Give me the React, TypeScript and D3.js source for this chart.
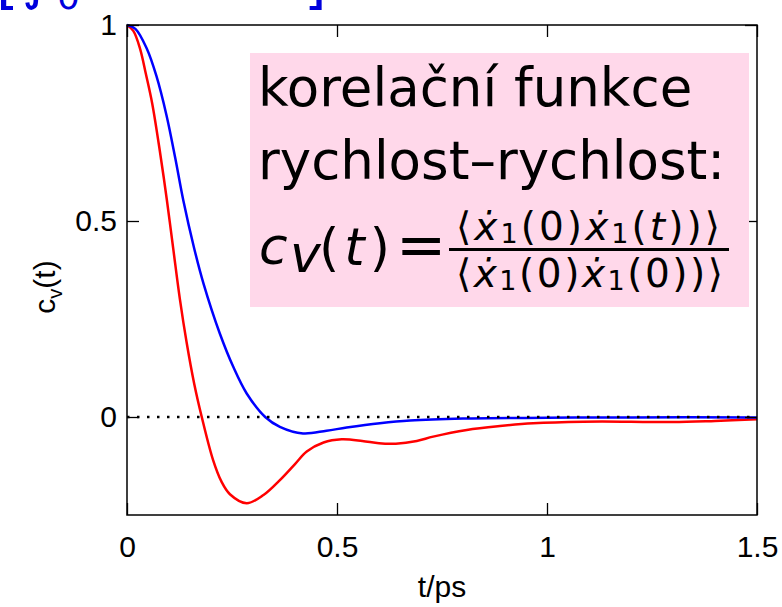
import * as d3 from "d3";
import React, { useEffect, useRef } from "react";

// red curve (t in ps, c_v)
const redT = [0, 0.015, 0.031, 0.045, 0.06, 0.078, 0.095, 0.11, 0.126, 0.142, 0.16, 0.178, 0.205, 0.225, 0.245, 0.285, 0.325, 0.364, 0.4, 0.428, 0.468, 0.511, 0.56, 0.6, 0.64, 0.69, 0.729, 0.809, 0.888, 0.967, 1.086, 1.2, 1.3, 1.4, 1.5];
const redV = [1, 0.985, 0.94, 0.875, 0.8, 0.68, 0.553, 0.43, 0.3, 0.19, 0.085, 0, -0.11, -0.165, -0.197, -0.22, -0.199, -0.161, -0.12, -0.088, -0.065, -0.057, -0.061, -0.067, -0.068, -0.061, -0.05, -0.033, -0.023, -0.016, -0.012, -0.012, -0.013, -0.01, -0.006];

// blue curve
const blueT = [0, 0.02, 0.047, 0.07, 0.094, 0.115, 0.134, 0.16, 0.182, 0.221, 0.253, 0.285, 0.329, 0.364, 0.419, 0.475, 0.523, 0.602, 0.674, 0.8, 1.0, 1.2, 1.5];
const blueV = [1, 0.99, 0.94, 0.87, 0.77, 0.66, 0.553, 0.43, 0.341, 0.213, 0.128, 0.06, 0, -0.025, -0.042, -0.035, -0.027, -0.016, -0.009, -0.004, -0.002, -0.001, -0.001];

const xTicks = [0, 0.5, 1, 1.5];
const yTicks = [0, 0.5, 1];
const xDomain = [0, 1.5];
const yDomain = [-0.25, 1];

const W = 782;
const H = 607;
const margin = { top: 25, right: 25, bottom: 92, left: 127 };
const innerWidth = W - margin.left - margin.right;
const innerHeight = H - margin.top - margin.bottom;

const axisFont = "'Liberation Sans', Arial, sans-serif";
const boxFont = "'DejaVu Sans', sans-serif";

const App = () => {
  const leftRef = useRef<SVGGElement>(null);
  const bottomRef = useRef<SVGGElement>(null);
  const rightRef = useRef<SVGGElement>(null);
  const topRef = useRef<SVGGElement>(null);

  const x = d3.scaleLinear().domain(xDomain).range([0, innerWidth]);
  const y = d3.scaleLinear().domain(yDomain).range([innerHeight, 0]);

  const line = d3
    .line<[number, number]>()
    .x((d) => x(d[0]))
    .y((d) => y(d[1]))
    .curve(d3.curveCatmullRom.alpha(0.5));

  const red = redT.map((t, i) => [t, redV[i]] as [number, number]);
  const blue = blueT.map((t, i) => [t, blueV[i]] as [number, number]);

  useEffect(() => {
    const fmt = (d: any) => String(d);

    // axes: Matlab style, ticks pointing inwards
    d3.select(leftRef.current)
      .call(d3.axisLeft(y).tickValues(yTicks).tickSize(-12).tickPadding(10).tickFormat(fmt) as any);
    d3.select(bottomRef.current)
      .call(d3.axisBottom(x).tickValues(xTicks).tickSize(-12).tickPadding(21).tickFormat(fmt) as any);
    d3.select(rightRef.current)
      .call(d3.axisRight(y).tickValues(yTicks).tickSize(-12).tickFormat(() => "") as any);
    d3.select(topRef.current)
      .call(d3.axisTop(x).tickValues(xTicks).tickSize(-12).tickFormat(() => "") as any);

    [leftRef, bottomRef, rightRef, topRef].forEach((r) => {
      const g = d3.select(r.current);
      g.select(".domain").remove();
      g.selectAll(".tick line").attr("stroke", "#000").attr("stroke-width", 1.3);
      g.selectAll(".tick text")
        .attr("fill", "#000")
        .style("font-family", axisFont)
        .style("font-size", "30px");
    });
  }, []);

  return (
    <svg width={W} height={H} style={{ position: "absolute", left: 0, top: 0, background: "#fff" }}>
      {/* cut-off blue heading above the chart */}
      <g fill="#0000dd" fontFamily={boxFont}>
        <text x={-4} y={3} fontSize={58}>[</text>
        <text x={22} y={-2} fontSize={56} fontStyle="italic">∫</text>
        <text x={57} y={9} fontSize={36}>0</text>
        <text x={304} y={3} fontSize={58}>]</text>
      </g>

      <g transform={`translate(${margin.left},${margin.top})`}>
        <path d={line(red) || ""} fill="none" stroke="#ff0000" strokeWidth={2.5} />
        <path d={line(blue) || ""} fill="none" stroke="#0000ff" strokeWidth={2.5} />
        <line
          x1={0}
          x2={innerWidth}
          y1={y(0)}
          y2={y(0)}
          stroke="#000"
          strokeWidth={2.5}
          strokeDasharray="2.5 7.5"
        />
        <rect x={0} y={0} width={innerWidth} height={innerHeight} fill="none" stroke="#000" strokeWidth={1.5} />
        <g ref={leftRef} />
        <g ref={bottomRef} transform={`translate(0,${innerHeight})`} />
        <g ref={rightRef} transform={`translate(${innerWidth},0)`} />
        <g ref={topRef} />
      </g>

      {/* axis labels */}
      <text
        transform={`translate(55,287) rotate(-90)`}
        textAnchor="middle"
        fontFamily={axisFont}
        fontSize={30}
      >
        c<tspan fontSize={20} dy={7}>v</tspan>
        <tspan dy={-7}>(t)</tspan>
      </text>
      <text x={margin.left + innerWidth / 2} y={597} textAnchor="middle" fontFamily={axisFont} fontSize={30}>
        t/ps
      </text>

      {/* annotation box */}
      <rect x={250} y={53} width={499} height={254} fill="#ffd8ea" />
      <g fontFamily={boxFont} fill="#000">
        <text x={258} y={106} fontSize={53}>korelační funkce</text>
        <text x={258} y={179} fontSize={53}>rychlost–rychlost:</text>
        <text x={259} y={264} fontSize={52} fontStyle="italic">c</text>
        <text x={290} y={272} fontSize={52} fontStyle="italic">v</text>
        <text x={319} y={265} fontSize={52} letterSpacing={5}>
          (<tspan fontStyle="italic">t</tspan>)
        </text>
        <text x={396} y={265} fontSize={60}>=</text>
        <text x={456} y={240} fontSize={39} textLength={264} lengthAdjust="spacing">
          ⟨<tspan fontStyle="italic">ẋ</tspan>
          <tspan fontSize={27} dy={3}>1</tspan>
          <tspan dy={-3}>(0)</tspan>
          <tspan fontStyle="italic">ẋ</tspan>
          <tspan fontSize={27} dy={3}>1</tspan>
          <tspan dy={-3}>(</tspan>
          <tspan fontStyle="italic">t</tspan>
          <tspan>))⟩</tspan>
        </text>
        <line x1={449} x2={729} y1={249.5} y2={249.5} stroke="#000" strokeWidth={3} />
        <text x={456} y={287} fontSize={39} textLength={267} lengthAdjust="spacing">
          ⟨<tspan fontStyle="italic">ẋ</tspan>
          <tspan fontSize={27} dy={3}>1</tspan>
          <tspan dy={-3}>(0)</tspan>
          <tspan fontStyle="italic">ẋ</tspan>
          <tspan fontSize={27} dy={3}>1</tspan>
          <tspan dy={-3}>(0))⟩</tspan>
        </text>
      </g>
    </svg>
  );
};

export default App;
